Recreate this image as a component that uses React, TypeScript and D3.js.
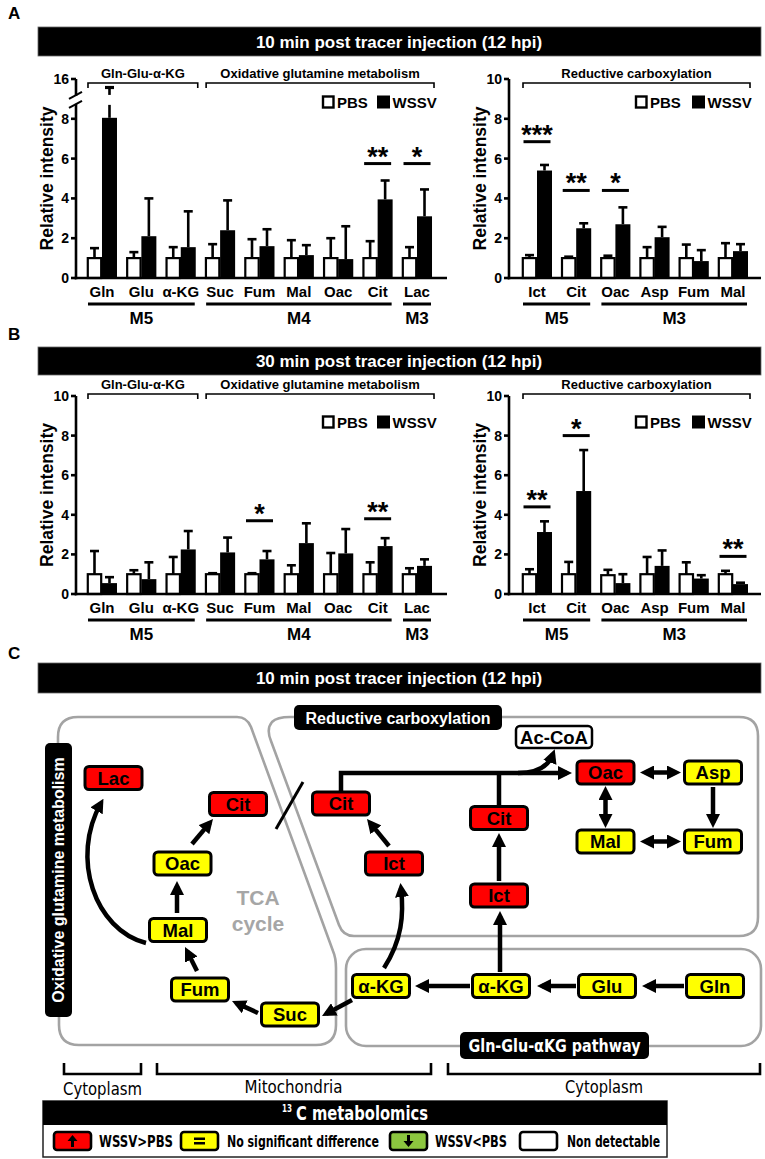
import React from "react";
import * as d3 from "d3";

const W = 765;
const H = 1159;
const SANS = "'Liberation Sans', Arial, Helvetica, sans-serif";
const NARROW = "'Liberation Sans Narrow', 'Arial Narrow', 'DejaVu Sans Condensed', sans-serif";

// ---------------- data ----------------
const oxCategories = ["Gln", "Glu", "α-KG", "Suc", "Fum", "Mal", "Oac", "Cit", "Lac"];
const redCategories = ["Ict", "Cit", "Oac", "Asp", "Fum", "Mal"];

// Panel A: 10 min post tracer injection
const a10OxPBS = [1, 1, 1, 1, 1, 1, 1, 1, 1];
const a10OxPBSsd = [0.5, 0.3, 0.55, 0.7, 0.95, 0.9, 1.0, 0.85, 0.55];
const a10OxWSSV = [8.05, 2.1, 1.55, 2.4, 1.6, 1.15, 0.95, 3.95, 3.1];
const a10OxWSSVsd = [7.1, 1.9, 1.8, 1.5, 0.85, 0.5, 1.65, 0.95, 1.35];
const a10RedPBS = [1, 1, 1, 1, 1, 1];
const a10RedPBSsd = [0.15, 0.07, 0.12, 0.55, 0.68, 0.75];
const a10RedWSSV = [5.4, 2.5, 2.7, 2.05, 0.85, 1.35];
const a10RedWSSVsd = [0.28, 0.25, 0.85, 0.52, 0.55, 0.35];

// Panel B: 30 min post tracer injection
const b30OxPBS = [1, 1, 1, 1, 1, 1, 1, 1, 1];
const b30OxPBSsd = [1.17, 0.2, 0.87, 0.05, 0.05, 0.45, 1.07, 0.6, 0.3];
const b30OxWSSV = [0.55, 0.75, 2.25, 2.1, 1.75, 2.57, 2.05, 2.42, 1.42];
const b30OxWSSVsd = [0.3, 0.85, 0.93, 0.75, 0.42, 1.0, 1.23, 0.4, 0.33];
const b30RedPBS = [1, 1, 0.95, 1, 1, 1];
const b30RedPBSsd = [0.25, 0.62, 0.27, 0.87, 0.6, 0.17];
const b30RedWSSV = [3.13, 5.2, 0.55, 1.42, 0.78, 0.5];
const b30RedWSSVsd = [0.54, 2.07, 0.45, 0.78, 0.17, 0.07];

const yTicks10 = [0, 2, 4, 6, 8, 10];
const yTicksBrokenLow = [0, 2, 4, 6, 8];
const yTicksBrokenHigh = [16];

// significance: category, stars, level of bar
const a10OxSig: [string, string, number][] = [["Cit", "**", 5.75], ["Lac", "*", 5.75]];
const a10RedSig: [string, string, number][] = [["Ict", "***", 6.85], ["Cit", "**", 4.4], ["Oac", "*", 4.4]];
const b30OxSig: [string, string, number][] = [["Fum", "*", 3.7], ["Cit", "**", 3.8]];
const b30RedSig: [string, string, number][] = [["Ict", "**", 4.4], ["Cit", "*", 8.0], ["Mal", "**", 1.9]];

const oxPathways = [
  { label: "Gln-Glu-α-KG", from: "Gln", to: "α-KG" },
  { label: "Oxidative glutamine metabolism", from: "Suc", to: "Lac" },
];
const redPathways = [{ label: "Reductive carboxylation", from: "Ict", to: "Mal" }];
const oxIsotopologues = [
  { label: "M5", from: "Gln", to: "α-KG" },
  { label: "M4", from: "Suc", to: "Cit" },
  { label: "M3", from: "Lac", to: "Lac" },
];
const redIsotopologues = [
  { label: "M5", from: "Ict", to: "Cit" },
  { label: "M3", from: "Oac", to: "Mal" },
];

const panelTitles = [
  "10 min post tracer injection (12 hpi)",
  "30 min post tracer injection (12 hpi)",
  "10 min post tracer injection (12 hpi)",
];

// Panel C: metabolite status (up = WSSV>PBS, ns = no significant difference, nd = non detectable)
const nodeNames = ["Lac", "Cit", "Oac", "Mal", "Fum", "Suc", "α-KG", "α-KG", "Glu", "Gln", "Cit", "Ict", "Cit", "Ict", "Oac", "Asp", "Mal", "Fum", "Ac-CoA"];
const nodeStatus = ["up", "up", "ns", "ns", "ns", "ns", "ns", "ns", "ns", "ns", "up", "up", "up", "up", "up", "ns", "ns", "ns", "nd"];
const legendLabels = ["WSSV>PBS", "No significant difference", "WSSV<PBS", "Non detectable"];
const legendStatus = ["up", "ns", "down", "nd"];
const statusColor: Record<string, string> = { up: "#ff0000", ns: "#ffff00", down: "#8cc63f", nd: "#ffffff" };

// layout of diagram nodes (centre positions)
const nodeLayout = [
  [113.5, 778], [238, 804], [182.5, 863.5], [178, 930], [200, 989.5], [290, 1014.5],
  [381, 986], [501, 986], [607, 986], [715, 986], [341, 803.5], [394, 863.5],
  [499, 818], [499, 895.5], [605.5, 772.5], [713, 772.5], [605.5, 841.5], [713, 841.5], [554, 737],
];

// ---------------- components ----------------
type ChartProps = {
  cats: string[];
  pbs: number[];
  pbsSd: number[];
  wssv: number[];
  wssvSd: number[];
  sig: [string, string, number][];
  pathways: { label: string; from: string; to: string }[];
  isos: { label: string; from: string; to: string }[];
  axisX: number;
  axisEnd: number;
  catStart: number;
  catEnd: number;
  y0: number;
  y10: number;
  broken?: boolean;
  bracketY: number;
  legendX: number;
  legendY: number;
  legendGap: number;
};

function BarChart(p: ChartProps) {
  const x = d3.scalePoint<string>().domain(p.cats).range([p.catStart, p.catEnd]).padding(0.5);
  const y = d3.scaleLinear().domain([0, 10]).range([p.y0, p.y10]);
  const yUp = d3.scaleLinear().domain([14, 16]).range([p.y10 + 20, p.y10]);
  const yv = (v: number) => (p.broken && v > 10 ? yUp(v) : y(v));
  const gapTop = y(9.15);
  const gapBot = y(8.75);
  const bw = 15;
  const ax = p.axisX;
  const cx = (c: string) => x(c) as number;

  const errLine = (xc: number, yFrom: number, yTo: number, key: string) => {
    const segs: [number, number][] = [];
    if (p.broken && yTo < gapTop && yFrom > gapBot) {
      segs.push([yFrom, gapBot + 1], [gapTop - 1, yTo]);
    } else segs.push([yFrom, yTo]);
    return (
      <g key={key}>
        {segs.map((s, i) => (
          <line key={i} x1={xc} x2={xc} y1={s[0]} y2={s[1]} stroke="#000" strokeWidth={2.6} />
        ))}
        <line x1={xc - 4.5} x2={xc + 4.5} y1={yTo} y2={yTo} stroke="#000" strokeWidth={p.broken && yTo < gapTop ? 3.2 : 2.6} />
      </g>
    );
  };

  const yMid = (p.y0 + p.y10) / 2;
  return (
    <g>
      {/* y axis label */}
      <text
        transform={`translate(${ax - 29},${yMid}) rotate(-90)`}
        textAnchor="middle"
        dominantBaseline="central"
        fontSize={17.5}
        fontWeight="bold"
      >
        Relative intensity
      </text>
      {/* y axis */}
      {p.broken ? (
        <g stroke="#000" strokeWidth={2.6}>
          <line x1={ax} x2={ax} y1={p.y0 + 1.3} y2={gapBot} />
          <line x1={ax} x2={ax} y1={gapTop} y2={p.y10} />
          <line x1={ax - 7} x2={ax + 6} y1={gapBot + 4} y2={gapBot - 3} strokeWidth={2} />
          <line x1={ax - 7} x2={ax + 6} y1={gapTop + 3} y2={gapTop - 4} strokeWidth={2} />
        </g>
      ) : (
        <line x1={ax} x2={ax} y1={p.y0 + 1.3} y2={p.y10} stroke="#000" strokeWidth={2.6} />
      )}
      {(p.broken ? yTicksBrokenLow : yTicks10).map((t) => (
        <g key={"t" + t}>
          <line x1={ax - 5} x2={ax} y1={y(t)} y2={y(t)} stroke="#000" strokeWidth={2.6} />
          <text x={ax - 7} y={y(t) + 5} textAnchor="end" fontSize={14} fontWeight="bold">
            {t}
          </text>
        </g>
      ))}
      {p.broken &&
        yTicksBrokenHigh.map((t) => (
          <g key={"th" + t}>
            <line x1={ax - 5} x2={ax} y1={yUp(t)} y2={yUp(t)} stroke="#000" strokeWidth={2.6} />
            <text x={ax - 7} y={yUp(t) + 5} textAnchor="end" fontSize={14} fontWeight="bold">
              {t}
            </text>
          </g>
        ))}
      {/* bars */}
      {p.cats.map((c, i) => {
        const xc = cx(c);
        const yp = yv(p.pbs[i]);
        const yw = yv(p.wssv[i]);
        return (
          <g key={c}>
            {errLine(xc - 7.5, yp, yv(p.pbs[i] + p.pbsSd[i]), "ep")}
            {errLine(xc + 7.5, yw, yv(p.wssv[i] + p.wssvSd[i]), "ew")}
            <rect x={xc - 14.2} y={yp} width={13.4} height={p.y0 - yp} fill="#fff" stroke="#000" strokeWidth={2.2} />
            <rect x={xc} y={yw} width={bw} height={p.y0 - yw} fill="#000" />
            <text x={xc} y={p.y0 + 19} textAnchor="middle" fontSize={15} fontWeight="bold">
              {c}
            </text>
          </g>
        );
      })}
      {/* x axis */}
      <line x1={ax - 1.3} x2={p.axisEnd} y1={p.y0} y2={p.y0} stroke="#000" strokeWidth={2.6} />
      {/* isotopologue groups */}
      {p.isos.map((g) => {
        const x1 = cx(g.from) - 14;
        const x2 = cx(g.to) + 14;
        return (
          <g key={g.label + g.from}>
            <line x1={x1} x2={x2} y1={p.y0 + 26} y2={p.y0 + 26} stroke="#000" strokeWidth={3} />
            <text x={(x1 + x2) / 2} y={p.y0 + 46} textAnchor="middle" fontSize={17} fontWeight="bold">
              {g.label}
            </text>
          </g>
        );
      })}
      {/* pathway brackets */}
      {p.pathways.map((g) => {
        const x1 = cx(g.from) - 14;
        const x2 = cx(g.to) + 17;
        return (
          <g key={g.label}>
            <path
              d={`M${x1},${p.bracketY + 5}V${p.bracketY}H${x2}V${p.bracketY + 5}`}
              fill="none"
              stroke="#000"
              strokeWidth={1.6}
            />
            <text x={(x1 + x2) / 2} y={p.bracketY - 5} textAnchor="middle" fontSize={13} fontWeight="bold">
              {g.label}
            </text>
          </g>
        );
      })}
      {/* significance */}
      {p.sig.map(([c, s, v]) => {
        const xc = cx(c);
        return (
          <g key={"s" + c}>
            <line x1={xc - 13.5} x2={xc + 13.5} y1={y(v)} y2={y(v)} stroke="#000" strokeWidth={3} />
            <text x={xc} y={y(v) + 2} textAnchor="middle" fontSize={27} fontWeight="bold">
              {s}
            </text>
          </g>
        );
      })}
      {/* legend */}
      <rect x={p.legendX} y={p.legendY - 5.5} width={10.5} height={11} fill="#fff" stroke="#000" strokeWidth={2.4} />
      <text x={p.legendX + 14} y={p.legendY + 5.5} fontSize={15} fontWeight="bold">
        PBS
      </text>
      <rect x={p.legendX + p.legendGap} y={p.legendY - 6.5} width={13} height={13} fill="#000" />
      <text x={p.legendX + p.legendGap + 15.5} y={p.legendY + 5.5} fontSize={15} fontWeight="bold">
        WSSV
      </text>
    </g>
  );
}

function TitleBar({ y, h, text }: { y: number; h: number; text: string }) {
  return (
    <g>
      <rect x={38} y={y} width={723} height={h} fill="#000" stroke="#666" strokeWidth={0.8} />
      <text x={399} y={y + h / 2 + 6} textAnchor="middle" fill="#fff" fontSize={17} fontWeight="bold">
        {text}
      </text>
    </g>
  );
}

function Node({ name, status, cx, cy }: { name: string; status: string; cx: number; cy: number }) {
  if (status === "nd") {
    return (
      <g>
        <rect x={cx - 38} y={cy - 11} width={76} height={22} rx={4} fill="#fff" stroke="#000" strokeWidth={2.5} />
        <text x={cx} y={cy + 7} textAnchor="middle" fontSize={18.5} fontWeight="bold" textLength={68} lengthAdjust="spacingAndGlyphs">
          {name}
        </text>
      </g>
    );
  }
  return (
    <g>
      <rect x={cx - 28.5} y={cy - 11.5} width={57} height={23} rx={4} fill={statusColor[status]} stroke="#000" strokeWidth={3} />
      <text x={cx} y={cy + 6.8} textAnchor="middle" fontSize={18.5} fontWeight="bold">
        {name}
      </text>
    </g>
  );
}

// straight arrow helper: path ending 5px before the tip
function straight(x1: number, y1: number, x2: number, y2: number, both = false) {
  const dx = x2 - x1;
  const dy = y2 - y1;
  const L = Math.hypot(dx, dy);
  const ux = dx / L;
  const uy = dy / L;
  const sx = both ? x1 + ux * 5 : x1;
  const sy = both ? y1 + uy * 5 : y1;
  return `M${sx},${sy}L${x2 - ux * 5},${y2 - uy * 5}`;
}

const singleArrows = [
  straight(192, 844, 213, 819),
  straight(177, 913, 177, 881),
  straight(197, 971, 185, 947),
  straight(258, 1013, 232, 1001),
  straight(352, 1000, 322, 1016),
  straight(470, 986, 415, 986),
  straight(576, 986, 537, 986),
  straight(684, 986, 642, 986),
  straight(500, 972, 500, 911),
  straight(499, 881, 499, 833),
  straight(389, 846, 367, 819),
  straight(713, 787, 713, 828),
  "M341,792V773H567",
  "M518,773Q546,773,553,754",
  "M146,943C95,930,70,858,101,803",
  "M384,968C402,940,404,915,401,888",
];
const doubleArrows = [
  straight(640, 772.5, 681, 772.5, true),
  straight(640, 841.5, 681, 841.5, true),
  straight(605.5, 786, 605.5, 828, true),
];

function Diagram() {
  return (
    <g>
      {/* compartments */}
      <g fill="none" stroke="#a3a3a3" strokeWidth={2.6}>
        <path d="M58,745V737Q58,717,78,717H237Q247,717,251,727L333,951Q336,958,336,968V1025Q336,1045,316,1045H79Q59,1045,59,1025V1015" />
        <path d="M290,717H739Q758,717,758,736V917Q758,936,739,936H354Q343,936,339,925L271,741Q266,729,272,722Q277,717,290,717" />
        <rect x={346} y={949} width={415} height={97} rx={20} />
      </g>
      {/* TCA cycle */}
      <text x={258} y={905} textAnchor="middle" fontSize={21} fontWeight="bold" fill="#a6a6a6">
        TCA
      </text>
      <text x={258} y={931} textAnchor="middle" fontSize={21} fontWeight="bold" fill="#a6a6a6">
        cycle
      </text>
      {/* divider */}
      <line x1={303} y1={782} x2={276} y2={829} stroke="#000" strokeWidth={3} />
      {/* arrows */}
      <g fill="none" stroke="#000" strokeWidth={4.5}>
        <path d="M499,806V773" />
        {singleArrows.map((d, i) => (
          <path key={"a" + i} d={d} markerEnd="url(#ah)" />
        ))}
        {doubleArrows.map((d, i) => (
          <path key={"d" + i} d={d} markerEnd="url(#ah)" markerStart="url(#ah)" />
        ))}
      </g>
      {nodeNames.map((n, i) => (
        <Node key={i} name={n} status={nodeStatus[i]} cx={nodeLayout[i][0]} cy={nodeLayout[i][1]} />
      ))}
      {/* compartment labels */}
      <rect x={294} y={705} width={208} height={25} rx={5} fill="#000" />
      <text x={398} y={723.5} textAnchor="middle" fill="#fff" fontSize={16} fontWeight="bold">
        Reductive carboxylation
      </text>
      <rect x={45} y={743} width={27} height={274} rx={5} fill="#000" />
      <text transform="translate(58.5,880) rotate(-90)" textAnchor="middle" dominantBaseline="central" fill="#fff" fontSize={16} fontWeight="bold">
        Oxidative glutamine metabolism
      </text>
      <rect x={460} y={1032} width={189} height={27} rx={5} fill="#000" />
      <text x={554.5} y={1051.5} textAnchor="middle" fill="#fff" fontSize={18} fontWeight="bold" fontFamily={NARROW} textLength={172} lengthAdjust="spacingAndGlyphs">
        Gln-Glu-αKG pathway
      </text>
      {/* location brackets */}
      <g fill="none" stroke="#000" strokeWidth={2.6}>
        <path d="M64,1063V1074H141V1063" />
        <path d="M157,1063V1074H431V1063" />
        <path d="M448,1063V1074H760V1063" />
      </g>
      <g fontFamily={NARROW} fontSize={17} textAnchor="middle">
        <text x={102.5} y={1095} textLength={79} lengthAdjust="spacingAndGlyphs">Cytoplasm</text>
        <text x={293.5} y={1093} textLength={98} lengthAdjust="spacingAndGlyphs">Mitochondria</text>
        <text x={604} y={1093} textLength={78} lengthAdjust="spacingAndGlyphs">Cytoplasm</text>
      </g>
      {/* legend */}
      <rect x={43} y={1101} width={624} height={56} fill="#fff" stroke="#222" strokeWidth={1.5} />
      <rect x={43} y={1101} width={624} height={24} fill="#000" />
      <text x={282} y={1112} fill="#fff" fontSize={10} fontWeight="bold" fontFamily={NARROW} textLength={10} lengthAdjust="spacingAndGlyphs">13</text>
      <text x={296} y={1120} fill="#fff" fontSize={19} fontWeight="bold" fontFamily={NARROW} textLength={132} lengthAdjust="spacingAndGlyphs">
        C metabolomics
      </text>
      {legendLabels.map((l, i) => {
        const bx = [54, 181, 390, 520][i];
        const tx = [99, 227, 435, 567][i];
        const tl = [74, 152, 72, 93][i];
        const st = legendStatus[i];
        const mx = bx + 18.5;
        return (
          <g key={l}>
            <rect x={bx} y={1132} width={37} height={18} rx={3} fill={statusColor[st]} stroke="#000" strokeWidth={2.6} />
            {st === "up" && <path d={`M${mx - 5},${1141}L${mx},${1135}L${mx + 5},${1141}H${mx + 1.5}V${1147}H${mx - 1.5}V${1141}Z`} fill="#000" />}
            {st === "down" && <path d={`M${mx - 5},${1141}L${mx},${1147}L${mx + 5},${1141}H${mx + 1.5}V${1135}H${mx - 1.5}V${1141}Z`} fill="#000" />}
            {st === "ns" && (
              <g fill="#000">
                <rect x={mx - 5.5} y={1137.5} width={11} height={2.5} />
                <rect x={mx - 5.5} y={1142} width={11} height={2.5} />
              </g>
            )}
            <text x={tx} y={1147} fontSize={16} fontWeight="bold" fontFamily={NARROW} textLength={tl} lengthAdjust="spacingAndGlyphs">
              {l}
            </text>
          </g>
        );
      })}
    </g>
  );
}

export default function App() {
  return (
    <svg width={W} height={H} viewBox={`0 0 ${W} ${H}`} style={{ position: "absolute", left: 0, top: 0, display: "block" }} fontFamily={SANS}>
      <defs>
        <marker id="ah" viewBox="0 0 14 14" refX={9} refY={7} markerWidth={14} markerHeight={14} markerUnits="userSpaceOnUse" orient="auto-start-reverse">
          <path d="M0,0L14,7L0,14Z" fill="#000" />
        </marker>
      </defs>
      <rect width={W} height={H} fill="#fff" />
      {/* panel letters */}
      <text x={8} y={19} fontSize={17} fontWeight="bold">A</text>
      <text x={8} y={340} fontSize={17} fontWeight="bold">B</text>
      <text x={8} y={659} fontSize={17} fontWeight="bold">C</text>

      <TitleBar y={27} h={29} text={panelTitles[0]} />
      <TitleBar y={347} h={28} text={panelTitles[1]} />
      <TitleBar y={663} h={30} text={panelTitles[2]} />

      {/* Panel A */}
      <BarChart
        cats={oxCategories} pbs={a10OxPBS} pbsSd={a10OxPBSsd} wssv={a10OxWSSV} wssvSd={a10OxWSSVsd}
        sig={a10OxSig} pathways={oxPathways} isos={oxIsotopologues}
        axisX={76} axisEnd={447} catStart={82.3} catEnd={436.7} y0={278} y10={79} broken
        bracketY={83} legendX={323} legendY={102} legendGap={54}
      />
      <BarChart
        cats={redCategories} pbs={a10RedPBS} pbsSd={a10RedPBSsd} wssv={a10RedWSSV} wssvSd={a10RedWSSVsd}
        sig={a10RedSig} pathways={redPathways} isos={redIsotopologues}
        axisX={509} axisEnd={761} catStart={517.4} catEnd={752.6} y0={278} y10={79}
        bracketY={83} legendX={636} legendY={102} legendGap={56}
      />
      {/* Panel B */}
      <BarChart
        cats={oxCategories} pbs={b30OxPBS} pbsSd={b30OxPBSsd} wssv={b30OxWSSV} wssvSd={b30OxWSSVsd}
        sig={b30OxSig} pathways={oxPathways} isos={oxIsotopologues}
        axisX={76} axisEnd={447} catStart={82.3} catEnd={436.7} y0={594} y10={396}
        bracketY={394} legendX={323} legendY={422} legendGap={54}
      />
      <BarChart
        cats={redCategories} pbs={b30RedPBS} pbsSd={b30RedPBSsd} wssv={b30RedWSSV} wssvSd={b30RedWSSVsd}
        sig={b30RedSig} pathways={redPathways} isos={redIsotopologues}
        axisX={509} axisEnd={761} catStart={517.4} catEnd={752.6} y0={594} y10={396}
        bracketY={394} legendX={636} legendY={422} legendGap={56}
      />
      {/* Panel C */}
      <Diagram />
    </svg>
  );
}
